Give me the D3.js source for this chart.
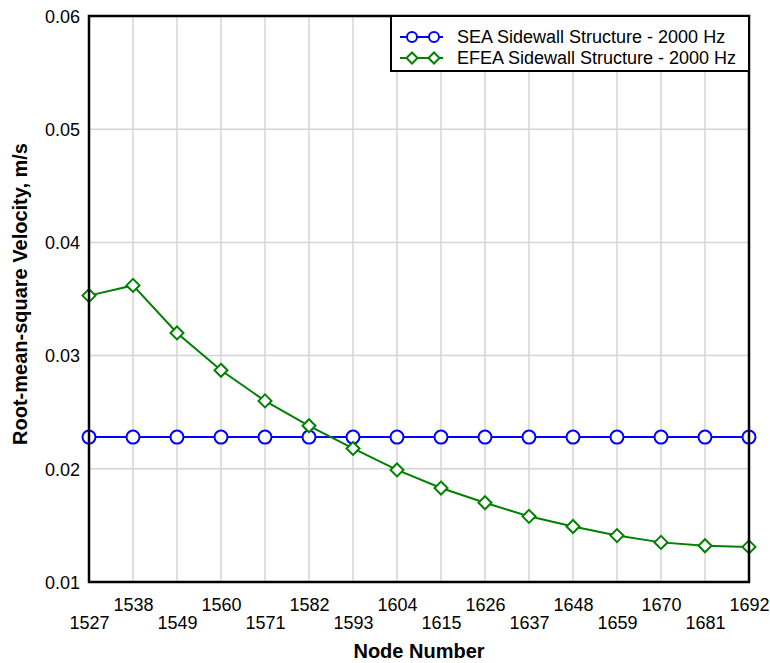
<!DOCTYPE html>
<html>
<head>
<meta charset="utf-8">
<script src="https://cdn.jsdelivr.net/npm/d3@7"></script>
<style>
  body { margin: 0; background: #fff; }
  text { font-family: "Liberation Sans", Arial, sans-serif; fill: #000; }
</style>
</head>
<body>
<div id="chart"></div>
<script>
// node numbers along the sidewall
const nodes = [1527, 1538, 1549, 1560, 1571, 1582, 1593, 1604, 1615, 1626, 1637, 1648, 1659, 1670, 1681, 1692];
// rms velocity, m/s
const seaValues = [0.0228, 0.0228, 0.0228, 0.0228, 0.0228, 0.0228, 0.0228, 0.0228,
  0.0228, 0.0228, 0.0228, 0.0228, 0.0228, 0.0228, 0.0228, 0.0228];
const efeaValues = [0.0353, 0.0362, 0.0320, 0.0287, 0.0260, 0.0238, 0.0218, 0.0199,
  0.0183, 0.0170, 0.0158, 0.0149, 0.0141, 0.0135, 0.0132, 0.0131];
const yTicks = [0.01, 0.02, 0.03, 0.04, 0.05, 0.06];
const seriesNames = ['SEA Sidewall Structure - 2000 Hz', 'EFEA Sidewall Structure - 2000 Hz'];

// set the dimensions and margins of the graph
const margin = { top: 16, right: 21, bottom: 81, left: 89 };
const totalWidth = 770;
const totalHeight = 663;
const width = totalWidth - margin.left - margin.right;
const height = totalHeight - margin.top - margin.bottom;

const blue = '#0000ff';
const green = '#008000';

const xScale = d3.scalePoint().domain(nodes).range([0, width]);
const yScale = d3.scaleLinear().domain([0.01, 0.06]).range([height, 0]);

const svg = d3
  .select('#chart')
  .append('svg')
  .attr('width', totalWidth)
  .attr('height', totalHeight)
  .append('g')
  .attr('transform', `translate(${margin.left},${margin.top})`);

// grid lines
svg.append('g')
  .selectAll('line.vgrid')
  .data(nodes)
  .enter()
  .append('line')
  .attr('x1', d => xScale(d))
  .attr('x2', d => xScale(d))
  .attr('y1', 0)
  .attr('y2', height)
  .style('stroke', '#d4d4d4')
  .style('stroke-width', '1.5px');

svg.append('g')
  .selectAll('line.hgrid')
  .data(yTicks)
  .enter()
  .append('line')
  .attr('x1', 0)
  .attr('x2', width)
  .attr('y1', d => yScale(d))
  .attr('y2', d => yScale(d))
  .style('stroke', '#d4d4d4')
  .style('stroke-width', '1.5px');

// Y axis labels
const yAxis = svg.append('g')
  .call(d3.axisLeft(yScale).tickValues(yTicks).tickFormat(d3.format('.2f')).tickSize(0).tickPadding(9));
yAxis.select('.domain').remove();
yAxis.selectAll('text')
  .style('font-size', '18px')
  .style('font-family', '"Liberation Sans", Arial, sans-serif')
  .attr('dy', '0.35em');

// X axis labels, staggered in two rows
const xAxis = svg.append('g')
  .attr('transform', `translate(0,${height})`)
  .call(d3.axisBottom(xScale).tickSize(0).tickPadding(0));
xAxis.select('.domain').remove();
xAxis.selectAll('text')
  .style('font-size', '18px')
  .style('font-family', '"Liberation Sans", Arial, sans-serif')
  .attr('dy', null)
  .attr('y', (d, i) => (i % 2 === 1 ? 28.5 : 46.5));

// lines
const line = d3.line()
  .x((d, i) => xScale(nodes[i]))
  .y(d => yScale(d));

// SEA series
svg.append('path')
  .datum(seaValues)
  .attr('d', line)
  .style('fill', 'none')
  .style('stroke', blue)
  .style('stroke-width', '2px');

svg.append('g')
  .selectAll('circle')
  .data(seaValues)
  .enter()
  .append('circle')
  .attr('cx', (d, i) => xScale(nodes[i]))
  .attr('cy', d => yScale(d))
  .attr('r', 6.5)
  .style('fill', '#fff')
  .style('stroke', blue)
  .style('stroke-width', '2px');

// EFEA series
svg.append('path')
  .datum(efeaValues)
  .attr('d', line)
  .style('fill', 'none')
  .style('stroke', green)
  .style('stroke-width', '2px');

const diamond = s => `M0,${-s}L${s},0L0,${s}L${-s},0Z`;

svg.append('g')
  .selectAll('path.diamond')
  .data(efeaValues)
  .enter()
  .append('path')
  .attr('d', diamond(6.5))
  .attr('transform', (d, i) => `translate(${xScale(nodes[i])},${yScale(d)})`)
  .style('fill', '#fff')
  .style('stroke', green)
  .style('stroke-width', '2px');

// frame around plot
svg.append('rect')
  .attr('x', 0)
  .attr('y', 0)
  .attr('width', width)
  .attr('height', height)
  .style('fill', 'none')
  .style('stroke', '#000')
  .style('stroke-width', '2.5px');

// legend
const legend = svg.append('g').attr('transform', `translate(${302},0)`);
legend.append('rect')
  .attr('x', 0)
  .attr('y', 0)
  .attr('width', width - 302)
  .attr('height', 55)
  .style('fill', '#fff')
  .style('stroke', '#000')
  .style('stroke-width', '2px');

const legendColors = [blue, green];
seriesNames.forEach((name, i) => {
  const g = legend.append('g').attr('transform', `translate(0,${21 + i * 21})`);
  g.append('line')
    .attr('x1', 9)
    .attr('x2', 52)
    .style('stroke', legendColors[i])
    .style('stroke-width', '2px');
  [21, 43].forEach((cx) => {
    if (i === 0) {
      g.append('circle')
        .attr('cx', cx)
        .attr('r', 5)
        .style('fill', '#fff')
        .style('stroke', blue)
        .style('stroke-width', '2px');
    } else {
      g.append('path')
        .attr('d', diamond(5.5))
        .attr('transform', `translate(${cx},0)`)
        .style('fill', '#fff')
        .style('stroke', green)
        .style('stroke-width', '2px');
    }
  });
  g.append('text')
    .attr('x', 66)
    .attr('y', 6)
    .style('font-size', '18px')
    .text(name);
});

// axis titles
svg.append('text')
  .attr('x', width / 2)
  .attr('y', height + 76)
  .attr('text-anchor', 'middle')
  .style('font-size', '20px')
  .style('font-weight', 'bold')
  .text('Node Number');

svg.append('text')
  .attr('transform', `translate(${-62},${height / 2 - 5}) rotate(-90)`)
  .attr('text-anchor', 'middle')
  .style('font-size', '20px')
  .style('font-weight', 'bold')
  .text('Root-mean-square Velocity, m/s');
</script>
</body>
</html>
